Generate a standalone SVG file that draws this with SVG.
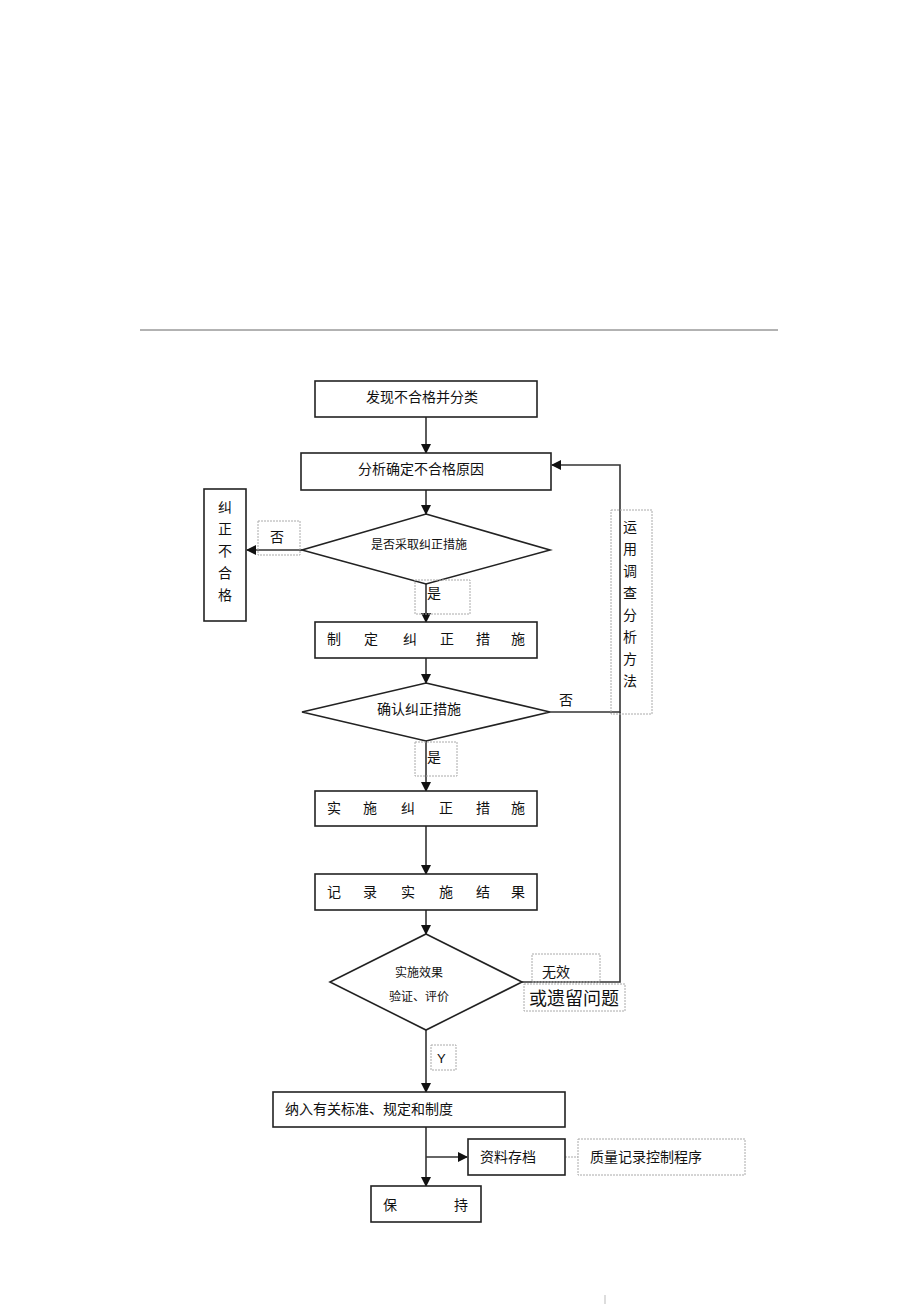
<svg xmlns="http://www.w3.org/2000/svg" width="920" height="1304" viewBox="0 0 920 1304">
<defs>
<marker id="ah" markerWidth="10" markerHeight="10" refX="9" refY="5" orient="auto" markerUnits="userSpaceOnUse">
<path d="M0,0 L10,5 L0,10 z" fill="#111"/>
</marker>
<style>
.box{fill:#fff;stroke:#222;stroke-width:1.6}
.dot{fill:none;stroke:#aaa;stroke-width:1;stroke-dasharray:2,1}
.t{font-family:"Liberation Serif","Noto Sans CJK SC",serif;font-size:14px;fill:#111}
.s{font-family:"Liberation Serif","Noto Sans CJK SC",serif;font-size:12px;fill:#111}
.c{stroke:#333;stroke-width:1.6;fill:none}
</style>
</defs>
<rect width="920" height="1304" fill="#fff"/>
<line x1="140" y1="330" x2="778" y2="330" stroke="#666" stroke-width="1"/>
<line x1="605" y1="1295" x2="605" y2="1304" stroke="#bbb" stroke-width="1"/>

<g id="connectors">
<line class="c" x1="426" y1="417" x2="426" y2="453" marker-end="url(#ah)"/>
<line class="c" x1="426" y1="490" x2="426" y2="514" marker-end="url(#ah)"/>
<line class="c" x1="302" y1="550" x2="247" y2="550" marker-end="url(#ah)"/>
<line class="c" x1="426" y1="584" x2="426" y2="622" marker-end="url(#ah)"/>
<line class="c" x1="426" y1="658" x2="426" y2="683" marker-end="url(#ah)"/>
<polyline class="c" points="550,712 620,712 620,465 552,465" marker-end="url(#ah)"/>
<line class="c" x1="426" y1="741" x2="426" y2="791" marker-end="url(#ah)"/>
<line class="c" x1="426" y1="826" x2="426" y2="874" marker-end="url(#ah)"/>
<line class="c" x1="426" y1="910" x2="426" y2="934" marker-end="url(#ah)"/>
<polyline class="c" points="522,982 620,982 620,712"/>
<line class="c" x1="426" y1="1030" x2="426" y2="1092" marker-end="url(#ah)"/>
<line class="c" x1="426" y1="1127" x2="426" y2="1186" marker-end="url(#ah)"/>
<line class="c" x1="426" y1="1157" x2="467" y2="1157" marker-end="url(#ah)"/>
<line x1="565" y1="1157" x2="578" y2="1157" stroke="#aaa" stroke-width="1" stroke-dasharray="2,1"/>
</g>

<g id="n1"><rect class="box" x="315" y="381" width="222" height="36"/><text class="t" x="422" y="402" text-anchor="middle">发现不合格并分类</text></g>
<g id="n2"><rect class="box" x="301" y="453" width="250" height="37"/><text class="t" x="421" y="474" text-anchor="middle">分析确定不合格原因</text></g>
<g id="d1"><polygon class="box" points="426,514 550,550 426,584 302,550"/><text class="s" x="419" y="549" text-anchor="middle">是否采取纠正措施</text></g>
<g id="n_left"><rect class="box" x="204" y="489" width="42" height="132"/>
<text class="t" x="225" text-anchor="middle"><tspan x="225" y="512">纠</tspan><tspan x="225" y="534">正</tspan><tspan x="225" y="556">不</tspan><tspan x="225" y="578">合</tspan><tspan x="225" y="600">格</tspan></text></g>
<g id="l_no1"><rect class="dot" x="258" y="521" width="42" height="34"/><text class="t" x="277" y="542" text-anchor="middle">否</text></g>
<g id="l_yes1"><rect class="dot" x="415" y="580" width="55" height="34"/><text class="t" x="434" y="598" text-anchor="middle">是</text></g>
<g id="n3"><rect class="box" x="315" y="622" width="222" height="36"/><text class="t" y="644" text-anchor="middle"><tspan x="334">制</tspan><tspan x="371">定</tspan><tspan x="410">纠</tspan><tspan x="447">正</tspan><tspan x="483">措</tspan><tspan x="518">施</tspan></text></g>
<g id="d2"><polygon class="box" points="426,683 550,712 426,741 302,712"/><text class="t" x="419" y="714" text-anchor="middle">确认纠正措施</text></g>
<g id="l_no2"><text class="t" x="566" y="705" text-anchor="middle">否</text></g>
<g id="side"><rect class="dot" x="611" y="510" width="41" height="204"/>
<text class="t" text-anchor="middle"><tspan x="630" y="532">运</tspan><tspan x="630" y="554">用</tspan><tspan x="630" y="576">调</tspan><tspan x="630" y="598">查</tspan><tspan x="630" y="620">分</tspan><tspan x="630" y="642">析</tspan><tspan x="630" y="664">方</tspan><tspan x="630" y="686">法</tspan></text></g>
<g id="l_yes2"><rect class="dot" x="415" y="742" width="42" height="34"/><text class="t" x="434" y="762" text-anchor="middle">是</text></g>
<g id="n4"><rect class="box" x="315" y="791" width="222" height="35"/><text class="t" y="813" text-anchor="middle"><tspan x="334">实</tspan><tspan x="370">施</tspan><tspan x="408">纠</tspan><tspan x="446">正</tspan><tspan x="483">措</tspan><tspan x="518">施</tspan></text></g>
<g id="n5"><rect class="box" x="315" y="874" width="222" height="36"/><text class="t" y="897" text-anchor="middle"><tspan x="334">记</tspan><tspan x="370">录</tspan><tspan x="408">实</tspan><tspan x="446">施</tspan><tspan x="483">结</tspan><tspan x="518">果</tspan></text></g>
<g id="d3"><polygon class="box" points="426,934 522,982 426,1030 330,982"/>
<text class="s" x="419" y="977" text-anchor="middle">实施效果</text><text class="s" x="419" y="1001" text-anchor="middle">验证、评价</text></g>
<g id="l_inv"><rect class="dot" x="532" y="954" width="68" height="28"/><text class="t" x="556" y="977" text-anchor="middle">无效</text></g>
<g id="l_rem"><rect class="dot" x="524" y="984" width="101" height="27"/><text x="574" y="1005" text-anchor="middle" font-family="Liberation Serif, Noto Sans CJK SC, serif" font-size="18" fill="#111">或遗留问题</text></g>
<g id="l_y"><rect class="dot" x="431" y="1045" width="25" height="25"/><text x="437" y="1063" font-family="Liberation Sans, sans-serif" font-size="13" fill="#111">Y</text></g>
<g id="n6"><rect class="box" x="273" y="1092" width="292" height="35"/><text class="t" x="285" y="1114">纳入有关标准、规定和制度</text></g>
<g id="n7"><rect class="box" x="468" y="1139" width="97" height="36"/><text class="t" x="480" y="1162">资料存档</text></g>
<g id="n8"><rect class="dot" x="578" y="1139" width="167" height="36"/><text class="t" x="590" y="1162">质量记录控制程序</text></g>
<g id="n9"><rect class="box" x="371" y="1186" width="110" height="36"/><text class="t" y="1210"><tspan x="383">保</tspan><tspan x="454">持</tspan></text></g>
</svg>
